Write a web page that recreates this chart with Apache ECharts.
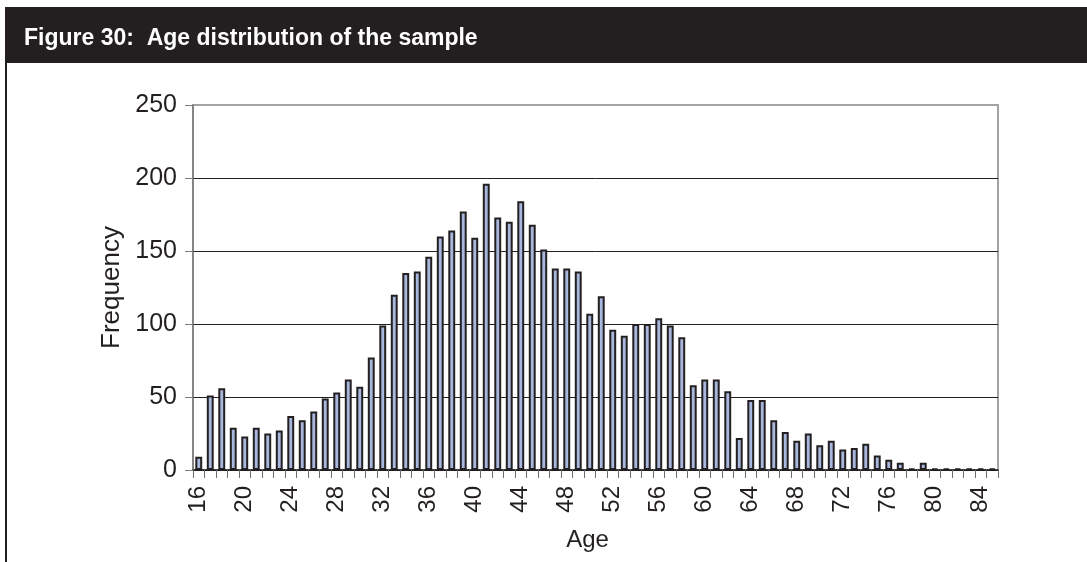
<!DOCTYPE html>
<html>
<head>
<meta charset="utf-8">
<title>Age distribution of the sample</title>
<script src="https://cdn.jsdelivr.net/npm/echarts@6/dist/echarts.min.js"></script>
<style>
  html, body { margin: 0; padding: 0; background: #fff; }
  #chart { width: 1087px; height: 562px; }
</style>
</head>
<body>
<div id="chart"></div>
<script>
// ages 16 .. 85
var ages = ['16', '17', '18', '19', '20', '21', '22', '23', '24', '25',
            '26', '27', '28', '29', '30', '31', '32', '33', '34', '35',
            '36', '37', '38', '39', '40', '41', '42', '43', '44', '45',
            '46', '47', '48', '49', '50', '51', '52', '53', '54', '55',
            '56', '57', '58', '59', '60', '61', '62', '63', '64', '65',
            '66', '67', '68', '69', '70', '71', '72', '73', '74', '75',
            '76', '77', '78', '79', '80', '81', '82', '83', '84', '85'];

// frequency per age
var frequency = [9, 51, 56, 29, 23, 29, 25, 27, 37, 34,
                 40, 49, 53, 62, 57, 77, 99, 120, 135, 136,
                 146, 160, 164, 177, 159, 196, 173, 170, 184, 168,
                 151, 138, 138, 136, 107, 119, 96, 92, 100, 100,
                 104, 99, 91, 58, 62, 62, 54, 22, 48, 48,
                 34, 26, 20, 25, 17, 20, 14, 15, 18, 10,
                 7, 5, 1, 5, 1, 1, 1, 1, 1, 1];

var yTicks = [0, 50, 100, 150, 200, 250];

var titleText = 'Figure 30:  Age distribution of the sample';
var dark = '#231f20';
var font = '"Liberation Sans", Arial, Helvetica, sans-serif';

var chart = echarts.init(document.getElementById('chart'), null, { renderer: 'canvas' });

var option = {
    animation: false,
    backgroundColor: '#fff',
    title: {
        text: titleText,
        left: 24,
        top: 27,
        padding: 0,
        z: 10,
        textStyle: {
            color: '#fff',
            fontSize: 23,
            fontWeight: 'bold',
            fontFamily: font
        }
    },
    graphic: [
        {
            // black heading bar
            type: 'rect',
            left: 5,
            top: 7,
            z: 1,
            shape: { width: 1082, height: 56 },
            style: { fill: dark }
        },
        {
            // left frame line
            type: 'line',
            z: 1,
            shape: { x1: 6, y1: 63, x2: 6, y2: 562 },
            style: { stroke: dark, lineWidth: 2 }
        }
    ],
    grid: {
        left: 193,
        right: 89,
        top: 105,
        bottom: 92,
        outerBoundsMode: 'none',
        show: true,
        borderColor: '#a3a3a3',
        borderWidth: 2,
        backgroundColor: 'transparent'
    },
    xAxis: {
        type: 'category',
        data: ages,
        name: 'Age',
        nameLocation: 'middle',
        nameGap: 58,
        nameTextStyle: { color: dark, fontSize: 24, fontFamily: font, padding: [0, 16, 0, 0] },
        axisLine: { lineStyle: { color: dark, width: 1.5 } },
        axisTick: {
            show: true,
            interval: 0,
            length: 8,
            lineStyle: { color: '#6f6f6f', width: 1 }
        },
        axisLabel: {
            interval: 3,
            rotate: 90,
            margin: 16,
            color: dark,
            fontSize: 24,
            fontFamily: font
        },
        splitLine: { show: false }
    },
    yAxis: {
        type: 'value',
        min: yTicks[0],
        max: yTicks[yTicks.length - 1],
        interval: 50,
        name: 'Frequency',
        nameLocation: 'middle',
        nameGap: 68,
        nameTextStyle: { color: dark, fontSize: 26, fontFamily: font },
        axisLine: { show: true, lineStyle: { color: '#7a7a7a', width: 1.5 } },
        axisTick: { show: true, length: 8, lineStyle: { color: '#7a7a7a', width: 1 } },
        axisLabel: {
            margin: 16,
            color: dark,
            fontSize: 25,
            fontFamily: font
        },
        splitLine: {
            show: true,
            lineStyle: {
                color: [dark, dark, dark, dark, dark, '#a3a3a3'],
                width: 1
            }
        }
    },
    series: [{
        type: 'bar',
        data: frequency,
        barWidth: '60%',
        itemStyle: {
            color: '#a8b7dd',
            borderColor: dark,
            borderWidth: 2
        }
    }]
};

chart.setOption(option);
</script>
</body>
</html>
